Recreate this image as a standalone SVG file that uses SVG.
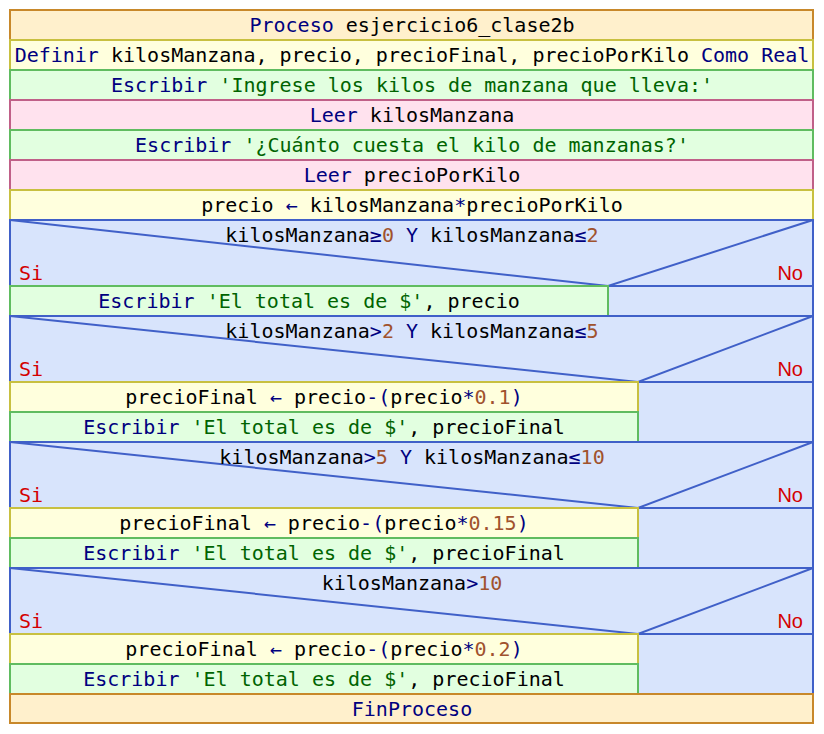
<svg xmlns="http://www.w3.org/2000/svg" width="824" height="734" viewBox="0 0 824 734">
<style>
text{font-family:"DejaVu Sans Mono","Liberation Mono",monospace;font-size:20px;fill:#000;}
.c{text-anchor:middle;}
.k{fill:#00007f;}
.s{fill:#006400;}
.n{fill:#a0522d;}
.o{fill:#00007f;}
.si{fill:#d40000;}
.no{fill:#d40000;font-family:"Liberation Sans",Arial,sans-serif;font-size:20px;text-anchor:end;}
.proc{fill:#fff0cc;stroke:#c8882a;stroke-width:2;}
.def{fill:#ffffdd;stroke:#c8c040;stroke-width:2;}
.esc{fill:#e2ffe0;stroke:#60bc60;stroke-width:2;}
.leer{fill:#ffe2ee;stroke:#c06088;stroke-width:2;}
.iff{fill:#d8e4fc;stroke:#4060c8;stroke-width:2;}
.diag{fill:none;stroke:#4060c8;stroke-width:2;}
</style>
<rect x="0" y="0" width="824" height="734" fill="#ffffff"/>
<g id="proceso">
<rect class="proc" x="10" y="10" width="803" height="30"/>
<text class="c" x="412" y="32"><tspan class="k">Proceso</tspan> esjercicio6_clase2b</text>
</g>
<g id="definir">
<rect class="def" x="10" y="40" width="803" height="30"/>
<text class="c" x="412" y="62"><tspan class="k">Definir</tspan> kilosManzana, precio, precioFinal, precioPorKilo <tspan class="k">Como Real</tspan></text>
</g>
<g id="escribir1">
<rect class="esc" x="10" y="70" width="803" height="30"/>
<text class="c" x="412" y="92"><tspan class="k">Escribir</tspan> <tspan class="s">'Ingrese los kilos de manzana que lleva:'</tspan></text>
</g>
<g id="leer1">
<rect class="leer" x="10" y="100" width="803" height="30"/>
<text class="c" x="412" y="122"><tspan class="k">Leer</tspan> kilosManzana</text>
</g>
<g id="escribir2">
<rect class="esc" x="10" y="130" width="803" height="30"/>
<text class="c" x="412" y="152"><tspan class="k">Escribir</tspan> <tspan class="s">'¿Cuánto cuesta el kilo de manzanas?'</tspan></text>
</g>
<g id="leer2">
<rect class="leer" x="10" y="160" width="803" height="30"/>
<text class="c" x="412" y="182"><tspan class="k">Leer</tspan> precioPorKilo</text>
</g>
<g id="asignar1">
<rect class="def" x="10" y="190" width="803" height="30"/>
<text class="c" x="412" y="212">precio <tspan class="o">←</tspan> kilosManzana<tspan class="o">*</tspan>precioPorKilo</text>
</g>

<g id="si1">
<rect class="iff" x="10" y="220" width="803" height="96"/>
<polyline class="diag" points="10,220 608,286 813,220"/>
<line class="diag" x1="10" y1="286" x2="813" y2="286"/>
<text class="c" x="412" y="242">kilosManzana<tspan class="o">≥</tspan><tspan class="n">0</tspan> <tspan class="k">Y</tspan> kilosManzana<tspan class="o">≤</tspan><tspan class="n">2</tspan></text>
<text class="si" x="19" y="280">Si</text>
<text class="no" x="803" y="280">No</text>
</g>
<g id="escribir3">
<rect class="esc" x="10" y="286" width="598" height="30"/>
<text class="c" x="309" y="308"><tspan class="k">Escribir</tspan> <tspan class="s">'El total es de $'</tspan>, precio</text>
</g>

<g id="si2">
<rect class="iff" x="10" y="316" width="803" height="126"/>
<polyline class="diag" points="10,316 638,382 813,316"/>
<line class="diag" x1="10" y1="382" x2="813" y2="382"/>
<text class="c" x="412" y="338">kilosManzana<tspan class="o">&gt;</tspan><tspan class="n">2</tspan> <tspan class="k">Y</tspan> kilosManzana<tspan class="o">≤</tspan><tspan class="n">5</tspan></text>
<text class="si" x="19" y="376">Si</text>
<text class="no" x="803" y="376">No</text>
</g>
<g id="asignar2">
<rect class="def" x="10" y="382" width="628" height="30"/>
<text class="c" x="324" y="404">precioFinal <tspan class="o">←</tspan> precio<tspan class="o">-(</tspan>precio<tspan class="o">*</tspan><tspan class="n">0.1</tspan><tspan class="o">)</tspan></text>
</g>
<g id="escribir4">
<rect class="esc" x="10" y="412" width="628" height="30"/>
<text class="c" x="324" y="434"><tspan class="k">Escribir</tspan> <tspan class="s">'El total es de $'</tspan>, precioFinal</text>
</g>

<g id="si3">
<rect class="iff" x="10" y="442" width="803" height="126"/>
<polyline class="diag" points="10,442 638,508 813,442"/>
<line class="diag" x1="10" y1="508" x2="813" y2="508"/>
<text class="c" x="412" y="464">kilosManzana<tspan class="o">&gt;</tspan><tspan class="n">5</tspan> <tspan class="k">Y</tspan> kilosManzana<tspan class="o">≤</tspan><tspan class="n">10</tspan></text>
<text class="si" x="19" y="502">Si</text>
<text class="no" x="803" y="502">No</text>
</g>
<g id="asignar3">
<rect class="def" x="10" y="508" width="628" height="30"/>
<text class="c" x="324" y="530">precioFinal <tspan class="o">←</tspan> precio<tspan class="o">-(</tspan>precio<tspan class="o">*</tspan><tspan class="n">0.15</tspan><tspan class="o">)</tspan></text>
</g>
<g id="escribir5">
<rect class="esc" x="10" y="538" width="628" height="30"/>
<text class="c" x="324" y="560"><tspan class="k">Escribir</tspan> <tspan class="s">'El total es de $'</tspan>, precioFinal</text>
</g>

<g id="si4">
<rect class="iff" x="10" y="568" width="803" height="126"/>
<polyline class="diag" points="10,568 638,634 813,568"/>
<line class="diag" x1="10" y1="634" x2="813" y2="634"/>
<text class="c" x="412" y="590">kilosManzana<tspan class="o">&gt;</tspan><tspan class="n">10</tspan></text>
<text class="si" x="19" y="628">Si</text>
<text class="no" x="803" y="628">No</text>
</g>
<g id="asignar4">
<rect class="def" x="10" y="634" width="628" height="30"/>
<text class="c" x="324" y="656">precioFinal <tspan class="o">←</tspan> precio<tspan class="o">-(</tspan>precio<tspan class="o">*</tspan><tspan class="n">0.2</tspan><tspan class="o">)</tspan></text>
</g>
<g id="escribir6">
<rect class="esc" x="10" y="664" width="628" height="30"/>
<text class="c" x="324" y="686"><tspan class="k">Escribir</tspan> <tspan class="s">'El total es de $'</tspan>, precioFinal</text>
</g>

<g id="finproceso">
<rect class="proc" x="10" y="694" width="803" height="29"/>
<text class="c" x="412" y="716"><tspan class="k">FinProceso</tspan></text>
</g>
<g id="connectors"></g>
</svg>
